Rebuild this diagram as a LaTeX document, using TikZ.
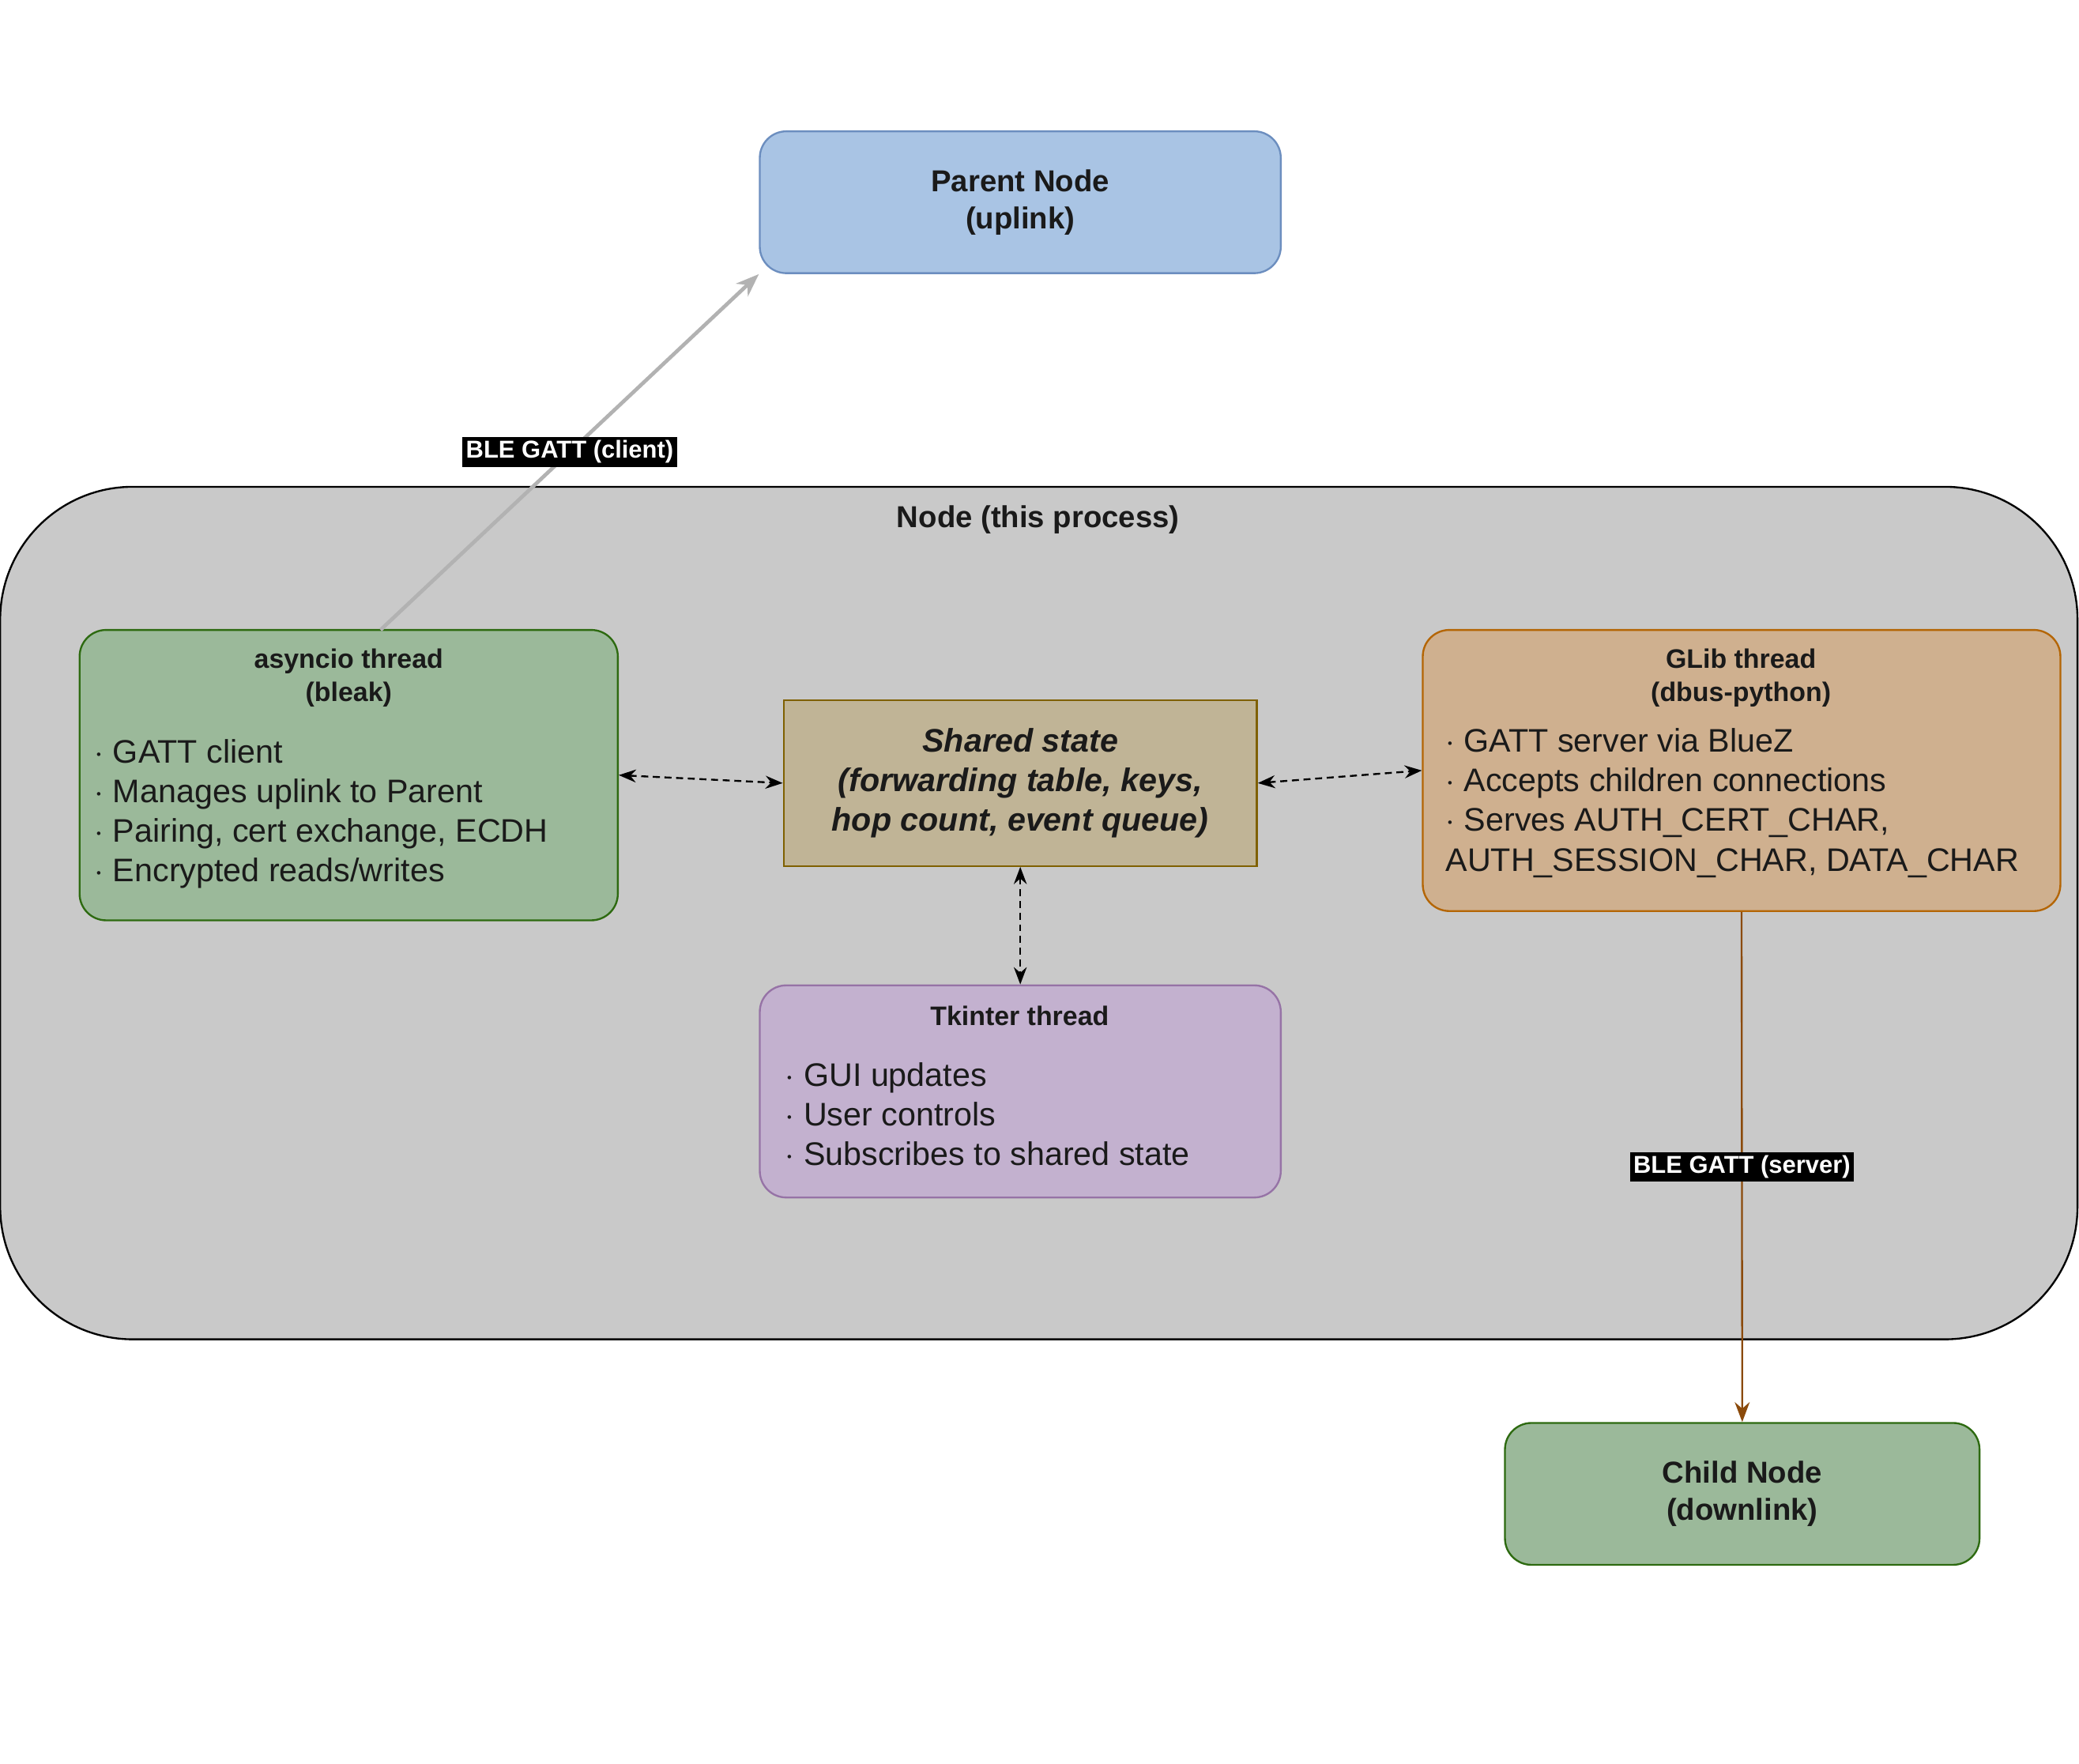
\documentclass[tikz,border=0pt]{standalone}
\usepackage{fontspec}
\setmainfont{Liberation Sans}
\usetikzlibrary{positioning,arrows.meta}

\definecolor{parentfill}{HTML}{A9C4E4}
\definecolor{parentdraw}{HTML}{6C8EBF}
\definecolor{greenfill}{HTML}{9BB99A}
\definecolor{greendraw}{HTML}{2D6A10}
\definecolor{sharedfill}{HTML}{C0B496}
\definecolor{shareddraw}{HTML}{7F6000}
\definecolor{glibfill}{HTML}{CFB08F}
\definecolor{glibdraw}{HTML}{B46504}
\definecolor{tkfill}{HTML}{C3B1CF}
\definecolor{tkdraw}{HTML}{9673A6}
\definecolor{procfill}{HTML}{C9C9C9}
\definecolor{linkbrown}{HTML}{8B4A0B}
\definecolor{txt}{HTML}{1A1A1A}

\begin{document}
\begin{tikzpicture}[
  x=0.02cm, y=-0.02cm,
  box/.style={rectangle, rounded corners=0.4cm, thick, align=center, text=txt},
  endpoint/.style={box, minimum width=7.86cm, minimum height=2.14cm, font=\fontsize{13}{16}\selectfont\bfseries},
  title/.style={anchor=north, align=center, inner sep=0pt, text=txt, font=\fontsize{11.5}{14.2}\selectfont\bfseries},
  items/.style={anchor=north west, align=left, inner sep=0pt, text=txt, font=\fontsize{14}{17}\selectfont},
  sync/.style={{Stealth[length=2.6mm]}-{Stealth[length=2.6mm]}, densely dashed, thick},
  link/.style={font=\fontsize{10.5}{12}\selectfont\bfseries, fill=black, text=white, inner sep=1.5pt}
]
\useasboundingbox (0,0) rectangle (1568,1330);

% Outer process
\node[rectangle, rounded corners=2cm, draw=black, thick, fill=procfill,
  minimum width=31.34cm, minimum height=12.86cm] (proc) at (783.5,688.5) {};
\node[title, font=\fontsize{13}{16}\selectfont\bfseries] (proctitle) at (783,381) {Node (this process)};

% Uplink and downlink peers
\node[endpoint, draw=parentdraw, fill=parentfill] (parent) at (769.5,152.5) {Parent Node\\(uplink)};
\node[endpoint, draw=greendraw, fill=greenfill, minimum width=7.16cm] (child) at (1314,1126.5) {Child Node\\(downlink)};

% Threads
\node[box, draw=greendraw, fill=greenfill, minimum width=8.12cm, minimum height=4.38cm] (async) at (263,584.5) {};
\node[title] (asynctitle) at (263,489) {asyncio thread\\(bleak)};
\node[items] (asyncitems) at (71,557) {%
  $\cdot$ GATT client\\
  $\cdot$ Manages uplink to Parent\\
  $\cdot$ Pairing, cert exchange, ECDH\\
  $\cdot$ Encrypted reads/writes};

\node[box, rounded corners=0pt, draw=shareddraw, fill=sharedfill, minimum width=7.14cm, minimum height=2.5cm,
  font=\fontsize{14}{17}\selectfont\bfseries\itshape] (shared) at (769.5,590.5)
  {Shared state\\(forwarding table, keys,\\hop count, event queue)};

\node[box, draw=glibdraw, fill=glibfill, minimum width=9.62cm, minimum height=4.24cm] (glib) at (1313.5,581) {};
\node[title] (glibtitle) at (1313,489) {GLib thread\\(dbus-python)};
\node[items] (glibitems) at (1090,549) {%
  $\cdot$ GATT server via BlueZ\\
  $\cdot$ Accepts children connections\\
  $\cdot$ Serves AUTH\_CERT\_CHAR,\\
  AUTH\_SESSION\_CHAR, DATA\_CHAR};

\node[box, draw=tkdraw, fill=tkfill, minimum width=7.86cm, minimum height=3.2cm] (tk) at (769.5,823) {};
\node[title] (tktitle) at (769,758) {Tkinter thread};
\node[items] (tkitems) at (592,801) {%
  $\cdot$ GUI updates\\
  $\cdot$ User controls\\
  $\cdot$ Subscribes to shared state};

% Shared state access
\draw[sync] (async.east) -- (shared.west);
\draw[sync] (shared.east) -- (glib.west);
\draw[sync] (shared.south) -- (tk.north);

% BLE links
\coordinate (clientout) at (287,475);
\draw[-{Stealth[length=3.5mm]}, line width=1.6pt, draw=black!30] (clientout) -- node[link] {BLE GATT (client)} (parent.south west);
\draw[-{Stealth[length=3mm]}, thick, draw=linkbrown] (glib.south) -- node[link, pos=0.5] {BLE GATT (server)} (child.north);

\end{tikzpicture}
\end{document}
